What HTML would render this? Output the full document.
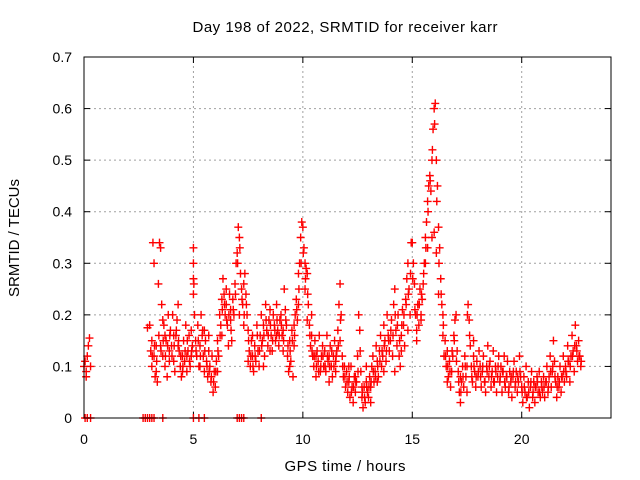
<!DOCTYPE html>
<html><head><meta charset="utf-8"><style>
html,body{margin:0;padding:0;background:#fff;}
svg{display:block;font-family:"Liberation Sans",sans-serif;}
</style></head><body>
<svg id="chart" width="640" height="480" viewBox="0 0 640 480" xmlns="http://www.w3.org/2000/svg">
<rect width="640" height="480" fill="#fff"/>
<text x="345" y="32" text-anchor="middle" font-size="15" textLength="305">Day 198 of 2022, SRMTID for receiver karr</text>
<text x="345" y="471" text-anchor="middle" font-size="15" textLength="121">GPS time / hours</text>
<text transform="translate(19,238) rotate(-90)" text-anchor="middle" font-size="15" textLength="118">SRMTID / TECUs</text>
<g id="grid"></g>
<g id="ticks"></g>
<g id="points"></g>
<rect x="84" y="57" width="527" height="361" fill="none" stroke="#000" stroke-width="1"/>
</svg>
<script>
const xTicks = [0,5,10,15,20];
const yTicks = [0,0.1,0.2,0.3,0.4,0.5,0.6,0.7];
const yTickLabels = ["0","0.1","0.2","0.3","0.4","0.5","0.6","0.7"];
const times = [
0,0.05,0.1,0.15,0.2,0.25,0.3,
2.9,3.0,3.05,3.1,3.15,3.2,3.25,3.3,3.35,3.4,3.45,3.5,3.55,3.6,3.65,3.7,3.75,3.8,3.85,3.9,3.95,
4.0,4.05,4.1,4.15,4.2,4.25,4.3,4.35,4.4,4.45,4.5,4.55,4.6,4.65,4.7,4.75,4.8,4.85,4.9,4.95,
5.0,5.0,5.0,5.0,5.05,5.1,5.15,5.2,5.25,5.3,5.35,5.4,5.45,5.5,5.55,5.6,5.65,5.7,5.75,5.8,5.85,5.9,5.95,
6.0,6.05,6.1,6.15,6.2,6.25,6.3,6.35,6.4,6.45,6.5,6.55,6.6,6.65,6.7,6.75,6.8,6.85,6.9,6.95,
7.0,7.05,7.1,7.15,7.2,7.25,7.3,7.35,7.4,7.45,7.5,7.55,7.6,7.65,7.7,7.75,7.8,7.85,7.9,7.95,
8.0,8.05,8.1,8.15,8.2,8.25,8.3,8.35,8.4,8.45,8.5,8.55,8.6,8.65,8.7,8.75,8.8,8.85,8.9,8.95,
9.0,9.05,9.1,9.15,9.2,9.25,9.3,9.35,9.4,9.45,9.5,9.55,9.6,9.65,9.7,9.75,9.8,9.85,9.9,9.95,
10.0,10.05,10.1,10.15,10.2,10.25,10.3,10.35,10.4,10.45,10.5,10.55,10.6,10.65,10.7,10.75,10.8,10.85,10.9,10.95,
11.0,11.05,11.1,11.15,11.2,11.25,11.3,11.35,11.4,11.45,11.5,11.55,11.6,11.65,11.7,11.75,11.8,11.85,11.9,11.95,
12.0,12.05,12.1,12.15,12.2,12.25,12.3,12.35,12.4,12.45,12.5,12.55,12.6,12.65,12.7,12.75,12.8,12.85,12.9,12.95,
13.0,13.05,13.1,13.15,13.2,13.25,13.3,13.35,13.4,13.45,13.5,13.55,13.6,13.65,13.7,13.75,13.8,13.85,13.9,13.95,
14.0,14.05,14.1,14.15,14.2,14.25,14.3,14.35,14.4,14.45,14.5,14.55,14.6,14.65,14.7,14.75,14.8,14.85,14.9,14.95,
15.0,15.05,15.1,15.15,15.2,15.25,15.3,15.35,15.4,15.45,15.5,15.55,15.6,15.65,15.7,15.75,15.8,15.85,15.9,15.95,
16.0,16.05,16.1,16.15,16.2,16.25,16.3,16.35,16.4,16.45,16.5,16.55,16.6,16.65,16.7,16.75,16.8,16.85,16.9,16.95,
17.0,17.05,17.1,17.15,17.2,17.25,17.3,17.35,17.4,17.45,17.5,17.55,17.6,17.65,17.7,17.75,17.8,17.85,17.9,17.95,
18.0,18.05,18.1,18.15,18.2,18.25,18.3,18.35,18.4,18.45,18.5,18.55,18.6,18.65,18.7,18.75,18.8,18.85,18.9,18.95,
19.0,19.05,19.1,19.15,19.2,19.25,19.3,19.35,19.4,19.45,19.5,19.55,19.6,19.65,19.7,19.75,19.8,19.85,19.9,19.95,
20.0,20.05,20.1,20.15,20.2,20.25,20.3,20.35,20.4,20.45,20.5,20.55,20.6,20.65,20.7,20.75,20.8,20.85,20.9,20.95,
21.0,21.05,21.1,21.15,21.2,21.25,21.3,21.35,21.4,21.45,21.5,21.55,21.6,21.65,21.7,21.75,21.8,21.85,21.9,21.95,
22.0,22.05,22.1,22.15,22.2,22.25,22.3,22.35,22.4,22.45,22.5,22.55,22.6,22.65,22.7
];
const values = [
.1,.11,.08,.12,.14,.155,.1,
.175,.18,.13,.1,.34,.3,.08,.14,.07,.26,.34,.33,.22,.12,.18,.1,.15,.08,.2,.13,.17,
.14,.2,.11,.09,.16,.19,.22,.13,.1,.08,.12,.15,.11,.18,.09,.13,.16,.1,.17,.14,
.33,.3,.27,.24,.2,.15,.12,.18,.1,.14,.2,.16,.12,.09,.15,.11,.08,.13,.1,.07,.12,.05,.09,
.06,.11,.15,.12,.2,.18,.23,.27,.24,.2,.22,.18,.14,.24,.19,.15,.23,.2,.26,.3,
.32,.37,.35,.28,.25,.22,.18,.28,.24,.2,.17,.13,.1,.15,.12,.09,.14,.11,.18,.13,
.1,.16,.2,.15,.18,.12,.22,.17,.14,.19,.21,.16,.13,.2,.18,.15,.22,.17,.14,.19,
.2,.16,.13,.25,.21,.18,.12,.09,.15,.11,.17,.08,.14,.2,.23,.19,.28,.3,.35,.38,
.37,.33,.25,.29,.28,.22,.18,.14,.2,.12,.1,.15,.08,.13,.11,.16,.09,.12,.14,.1,
.13,.09,.16,.11,.07,.14,.1,.08,.12,.15,.09,.13,.17,.22,.26,.2,.12,.08,.1,.06,
.09,.05,.07,.04,.1,.06,.03,.08,.05,.07,.12,.2,.17,.09,.04,.02,.06,.03,.07,.05,
.04,.08,.06,.1,.12,.07,.09,.14,.11,.08,.13,.16,.1,.12,.18,.15,.11,.2,.16,.13,
.15,.19,.12,.22,.25,.17,.14,.2,.12,.1,.16,.21,.18,.14,.23,.27,.3,.25,.2,.34,
.34,.3,.26,.2,.15,.22,.18,.25,.2,.23,.26,.3,.35,.38,.42,.45,.47,.44,.5,.56,
.6,.61,.5,.45,.37,.33,.27,.22,.16,.12,.15,.1,.13,.08,.11,.06,.09,.12,.16,.19,
.2,.13,.09,.05,.03,.07,.1,.06,.12,.08,.1,.22,.19,.14,.1,.07,.12,.09,.06,.11,
.08,.13,.1,.06,.09,.12,.07,.05,.1,.14,.08,.11,.06,.09,.13,.07,.1,.05,.08,.12,
.07,.1,.05,.09,.12,.06,.08,.11,.05,.09,.07,.04,.08,.11,.06,.09,.05,.07,.12,.08,
.06,.03,.08,.05,.1,.04,.07,.02,.06,.09,.04,.07,.03,.06,.08,.05,.09,.04,.07,.05,
.08,.04,.07,.1,.05,.08,.12,.06,.09,.15,.11,.07,.04,.08,.06,.1,.05,.08,.12,.07,
.1,.08,.14,.11,.07,.12,.16,.13,.09,.18,.14,.11,.15,.12,.1
];
const extraTimes = [0.1,3.1,3.2,3.3,3.5,3.6,3.7,3.9,4.1,4.3,4.5,4.7,4.9,5.3,5.5,5.7,6.1,6.3,6.5,6.7,7.1,7.3,7.5,7.7,8.2,8.5,8.8,9.1,9.4,9.6,9.8,10.1,10.2,10.4,10.6,11.2,11.5,11.7,12.1,12.4,12.7,12.9,13.1,13.4,13.7,14.2,14.5,14.8,15.2,15.4,15.6,15.7,15.9,16.0,16.1,16.2,16.4,16.6,17.2,17.5,17.8];
const extraValues = [.09,.15,.12,.09,.14,.19,.16,.11,.16,.14,.09,.12,.12,.1,.17,.16,.09,.16,.25,.21,.2,.26,.11,.16,.1,.13,.16,.17,.1,.18,.22,.3,.19,.16,.12,.12,.11,.15,.1,.08,.06,.1,.03,.07,.09,.09,.13,.17,.17,.19,.3,.33,.35,.36,.32,.24,.2,.07,.08,.05,.15];
const moreTimes = [
3.12,3.22,3.32,3.42,3.52,3.62,3.72,3.82,3.92,4.02,4.12,4.22,4.32,4.42,4.52,4.62,4.72,4.82,4.92,
5.02,5.12,5.22,5.32,5.42,5.52,5.62,5.72,5.82,5.92,6.02,6.12,6.22,6.32,6.42,6.52,6.62,6.72,6.82,6.92,
7.02,7.12,7.22,7.32,7.42,7.52,7.62,7.72,7.82,7.92,8.02,8.12,8.22,8.32,8.42,8.52,8.62,8.72,8.82,8.92,
9.02,9.12,9.22,9.32,9.42,9.52,9.62,9.72,9.82,9.92,10.02,10.12,10.22,10.32,10.42,10.52,10.62,10.72,10.82,10.92,
11.02,11.12,11.22,11.32,11.42,11.52,11.62,11.72,11.82,11.92,12.02,12.12,12.22,12.32,12.42,12.52,12.62,12.72,12.82,12.92,
13.02,13.12,13.22,13.32,13.42,13.52,13.62,13.72,13.82,13.92,14.02,14.12,14.22,14.32,14.42,14.52,14.62,14.72,14.82,14.92,
15.02,15.12,15.22,15.32,15.42,15.52,15.62,15.72,15.82,15.92,16.02,16.12,16.22,16.32,16.42,16.52,16.62,16.72,16.82,16.92,
17.02,17.12,17.22,17.32,17.42,17.52,17.62,17.72,17.82,17.92,18.02,18.12,18.22,18.32,18.42,18.52,18.62,18.72,18.82,18.92,
19.02,19.12,19.22,19.32,19.42,19.52,19.62,19.72,19.82,19.92,20.02,20.12,20.22,20.32,20.42,20.52,20.62,20.72,20.82,20.92,
21.02,21.12,21.22,21.32,21.42,21.52,21.62,21.72,21.82,21.92,22.02,22.12,22.22,22.32,22.42,22.52,22.62,22.72
];
const moreValues = [
.12,.14,.11,.16,.13,.15,.12,.14,.16,.12,.14,.17,.15,.12,.1,.13,.15,.11,.13,
.26,.13,.15,.12,.17,.13,.1,.09,.08,.07,.09,.13,.16,.21,.22,.19,.2,.17,.21,.24,
.3,.33,.23,.2,.22,.15,.12,.1,.12,.16,.13,.14,.16,.19,.16,.18,.15,.17,.19,.16,
.18,.15,.19,.14,.13,.15,.16,.21,.25,.3,.32,.27,.24,.16,.13,.12,.1,.09,.1,.12,
.1,.12,.1,.13,.1,.12,.14,.19,.1,.08,.07,.08,.05,.06,.07,.09,.13,.05,.04,.06,
.06,.07,.09,.08,.1,.11,.13,.14,.13,.15,.17,.16,.2,.18,.15,.18,.2,.22,.24,.28,
.27,.21,.2,.22,.24,.28,.33,.4,.46,.52,.57,.42,.3,.24,.18,.12,.1,.09,.13,.15,
.11,.07,.05,.08,.1,.2,.16,.08,.1,.08,.09,.08,.1,.07,.09,.1,.08,.07,.09,.1,
.08,.09,.07,.08,.06,.08,.09,.07,.08,.09,.05,.06,.04,.05,.07,.05,.06,.07,.05,.06,
.06,.07,.06,.09,.1,.08,.06,.07,.08,.09,.09,.11,.1,.12,.14,.13,.12,.11
];
const zeroTimes = [0.05,0.15,0.3,2.7,2.8,2.9,3.0,3.1,3.2,3.6,5.0,5.25,5.5,7.0,7.1,7.2,7.3,8.1];

const X0=84, X1=611, Y0=418, Y1=57, XMAX=24.08, YMAX=0.7;
function xs(t){return X0+(X1-X0)*t/XMAX;}
function ys(v){return Y0-(Y0-Y1)*v/YMAX;}
const NS="http://www.w3.org/2000/svg";
const grid=document.getElementById('grid'), ticks=document.getElementById('ticks'), pts=document.getElementById('points');
function mk(tag,attrs,parent){const e=document.createElementNS(NS,tag);for(const k in attrs)e.setAttribute(k,attrs[k]);parent.appendChild(e);return e;}
yTicks.forEach((v,i)=>{
  const y=ys(v);
  if(v>0&&v<YMAX){const g=mk('line',{x1:X0,x2:X1,y1:y,y2:y,stroke:'#a0a0a0','stroke-dasharray':'2,3'},grid);
  
  }
  mk('line',{x1:X0,x2:X0+6,y1:y,y2:y,stroke:'#000'},ticks);
  mk('line',{x1:X1-6,x2:X1,y1:y,y2:y,stroke:'#000'},ticks);
  const t=mk('text',{x:72,y:y+5,'text-anchor':'end','font-size':14},ticks);
  t.textContent=yTickLabels[i];
  
  
});
xTicks.forEach(v=>{
  const x=xs(v);
  if(v>0){const g=mk('line',{x1:x,x2:x,y1:Y0,y2:Y1,stroke:'#a0a0a0','stroke-dasharray':'2,3'},grid);
  
  }
  mk('line',{x1:x,x2:x,y1:Y0,y2:Y0-6,stroke:'#000'},ticks);
  mk('line',{x1:x,x2:x,y1:Y1,y2:Y1+6,stroke:'#000'},ticks);
  const t=mk('text',{x:x,y:444,'text-anchor':'middle','font-size':14},ticks);
  t.textContent=String(v);
  
  
});
function plus(t,v,color){
  const x=xs(t), y=ys(v);
  const p=mk('path',{d:`M${x-4},${y}h8M${x},${y-4}v8`,stroke:color,'stroke-width':1.4,fill:'none'},pts);
  
  
}
times.forEach((t,i)=>plus(t,values[i],'#ff0000'));
extraTimes.forEach((t,i)=>plus(t,extraValues[i],'#ff0000'));
moreTimes.forEach((t,i)=>plus(t,moreValues[i],'#ff0000'));
zeroTimes.forEach(t=>plus(t,0,'#ff0000'));
</script>
</body></html>
